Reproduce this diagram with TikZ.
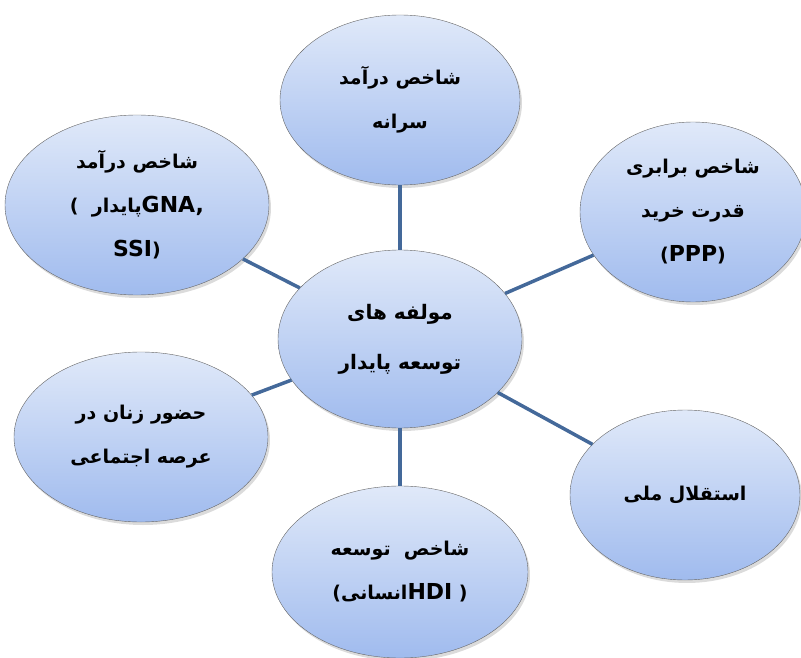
\documentclass[tikz,border=0pt]{standalone}
\usepackage{fontspec}
\setmainfont{DejaVu Sans}
\newfontfamily\arabicfont[Script=Arabic]{DejaVu Sans}
\TeXXeTstate=1
\usetikzlibrary{shapes.geometric,shadows}
\newcommand{\fa}[1]{{\arabicfont\beginR #1\endR}}
\newcommand{\la}[1]{{\fontsize{22}{44}\selectfont #1}}
\definecolor{bubtop}{HTML}{E0E9F9}
\definecolor{bubbot}{HTML}{A0BBEE}
\definecolor{linkblue}{HTML}{44699A}
\tikzset{
  bubble/.style = {ellipse, draw=black!60, thin, top color=bubtop,
    bottom color=bubbot, align=center, inner sep=0pt,
    font=\bfseries\fontsize{19}{44}\selectfont,
    drop shadow={shadow xshift=2pt, shadow yshift=-3pt,
      fill=black!40, opacity=.35}},% bulle
  link/.style = {draw=linkblue, line width=3.5pt}% trait
}

\begin{document}
\begin{tikzpicture}[x=1pt,y=-1pt]
\useasboundingbox (0,0) rectangle (801,658);
\node [bubble, minimum width=244pt, minimum height=178pt,
  font=\bfseries\fontsize{20}{50}\selectfont] (centre) at (400,339)
  {\fa{مولفه های}\\\fa{توسعه پایدار}};
\node [bubble, minimum width=240pt, minimum height=170pt] (top) at (400,100)
  {\fa{شاخص درآمد}\\\fa{سرانه}};
\node [bubble, minimum width=264pt, minimum height=180pt] (topleft) at (137,205)
  {\fa{شاخص درآمد}\\(\ \ \fa{پایدار}\la{GNA,}\\\la{SSI})};
\node [bubble, minimum width=226pt, minimum height=180pt] (topright) at (693,212)
  {\fa{شاخص برابری}\\\fa{قدرت خرید}\\(\la{PPP})};
\node [bubble, minimum width=254pt, minimum height=170pt] (left) at (141,437)
  {\fa{حضور زنان در}\\\fa{عرصه اجتماعی}};
\node [bubble, minimum width=230pt, minimum height=170pt] (botright) at (685,495)
  {\fa{استقلال ملی}};
\node [bubble, minimum width=256pt, minimum height=172pt] (bottom) at (400,572)
  {\fa{شاخص\ \ توسعه}\\(\fa{انسانی}\la{HDI}\ )};
% liens
\foreach \n in {top,topleft,topright,left,botright,bottom}
  \draw [link] (centre) -- (\n);
\end{tikzpicture}
\end{document}
